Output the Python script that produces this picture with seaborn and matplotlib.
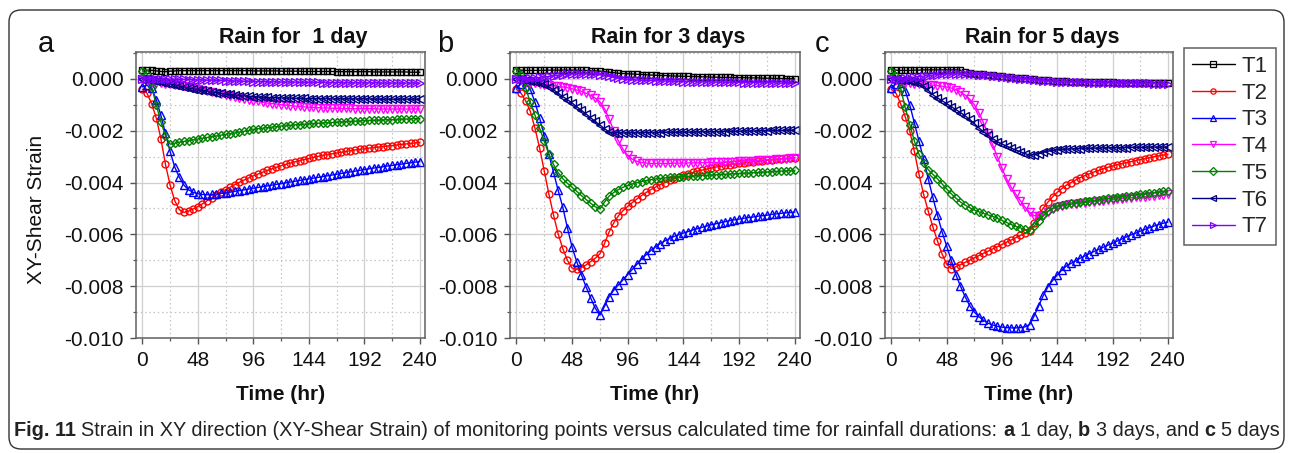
import numpy as np
import pandas as pd
import matplotlib
matplotlib.use("Agg")
import matplotlib.pyplot as plt
import seaborn as sns
from matplotlib.ticker import MultipleLocator, FuncFormatter
from matplotlib.patches import FancyBboxPatch
from matplotlib.transforms import IdentityTransform
from matplotlib.lines import Line2D
from matplotlib import font_manager

# ---------------- data (strain values in units of 1e-3) ----------------
time_hr = list(range(0, 241, 4))
series_names = ["T1", "T2", "T3", "T4", "T5", "T6", "T7"]
panel_titles = ["Rain for  1 day", "Rain for 3 days", "Rain for 5 days"]
panel_letters = ["a", "b", "c"]
x_ticks = [0, 48, 96, 144, 192, 240]
y_ticks = [0.000, -0.002, -0.004, -0.006, -0.008, -0.010]

A_T1 = [0.35,0.34,0.33,0.31,0.29,0.28,0.30,0.31,0.32,0.32,
        0.32,0.32,0.32,0.32,0.32,0.32,0.32,0.32,0.32,0.32,
        0.32,0.32,0.32,0.32,0.31,0.31,0.31,0.31,0.31,0.31,
        0.30,0.30,0.30,0.30,0.30,0.29,0.29,0.29,0.29,0.29,
        0.29,0.29,0.28,0.28,0.28,0.28,0.28,0.28,0.28,0.28,
        0.27,0.27,0.27,0.27,0.27,0.27,0.27,0.27,0.26,0.26,
        0.26]
A_T2 = [-0.40,-0.55,-0.95,-1.50,-2.30,-3.30,-4.10,-4.70,-5.05,-5.15,
        -5.10,-5.02,-4.93,-4.82,-4.70,-4.60,-4.48,-4.38,-4.28,-4.18,
        -4.08,-3.99,-3.90,-3.82,-3.74,-3.67,-3.60,-3.53,-3.47,-3.41,
        -3.35,-3.30,-3.25,-3.20,-3.15,-3.11,-3.07,-3.03,-2.99,-2.95,
        -2.92,-2.89,-2.86,-2.83,-2.80,-2.77,-2.74,-2.72,-2.70,-2.67,
        -2.65,-2.63,-2.61,-2.59,-2.57,-2.55,-2.53,-2.51,-2.49,-2.47,
        -2.45]
A_T3 = [-0.30,-0.25,-0.35,-0.80,-1.40,-2.10,-2.80,-3.40,-3.80,-4.10,
        -4.28,-4.38,-4.43,-4.46,-4.47,-4.46,-4.44,-4.42,-4.40,-4.37,
        -4.34,-4.31,-4.28,-4.25,-4.22,-4.19,-4.16,-4.13,-4.10,-4.07,
        -4.04,-4.01,-3.98,-3.95,-3.92,-3.89,-3.86,-3.83,-3.80,-3.77,
        -3.74,-3.71,-3.68,-3.65,-3.62,-3.59,-3.56,-3.53,-3.50,-3.47,
        -3.44,-3.42,-3.39,-3.36,-3.34,-3.31,-3.29,-3.26,-3.24,-3.21,
        -3.19]
A_T4 = [-0.02,-0.05,-0.10,-0.14,-0.17,-0.19,-0.21,-0.23,-0.25,-0.28,
        -0.31,-0.34,-0.37,-0.41,-0.45,-0.49,-0.53,-0.57,-0.61,-0.65,
        -0.69,-0.73,-0.77,-0.80,-0.84,-0.87,-0.90,-0.93,-0.95,-0.97,
        -0.99,-1.01,-1.03,-1.05,-1.06,-1.08,-1.09,-1.10,-1.11,-1.12,
        -1.12,-1.13,-1.13,-1.14,-1.14,-1.14,-1.15,-1.15,-1.15,-1.15,
        -1.15,-1.16,-1.16,-1.16,-1.16,-1.16,-1.16,-1.16,-1.16,-1.16,
        -1.16]
A_T5 = [0.30,0.20,-0.30,-1.00,-1.65,-2.20,-2.52,-2.48,-2.44,-2.41,
        -2.38,-2.35,-2.32,-2.29,-2.26,-2.23,-2.20,-2.17,-2.14,-2.11,
        -2.08,-2.05,-2.02,-1.99,-1.95,-1.92,-1.90,-1.88,-1.86,-1.84,
        -1.82,-1.80,-1.79,-1.77,-1.76,-1.75,-1.73,-1.72,-1.71,-1.70,
        -1.69,-1.68,-1.67,-1.66,-1.65,-1.64,-1.63,-1.62,-1.61,-1.60,
        -1.60,-1.59,-1.58,-1.57,-1.57,-1.56,-1.55,-1.55,-1.54,-1.53,
        -1.53]
A_T6 = [0.00,-0.02,-0.05,-0.08,-0.11,-0.15,-0.19,-0.23,-0.27,-0.31,
        -0.35,-0.38,-0.41,-0.44,-0.47,-0.50,-0.53,-0.55,-0.58,-0.60,
        -0.62,-0.64,-0.65,-0.67,-0.68,-0.69,-0.70,-0.71,-0.72,-0.73,
        -0.73,-0.74,-0.74,-0.75,-0.75,-0.75,-0.76,-0.76,-0.76,-0.76,
        -0.76,-0.77,-0.77,-0.77,-0.77,-0.77,-0.77,-0.77,-0.77,-0.77,
        -0.78,-0.78,-0.78,-0.78,-0.78,-0.78,-0.78,-0.78,-0.78,-0.78,
        -0.78]
A_T7 = [0.00,0.00,0.00,0.00,-0.01,-0.01,-0.01,-0.02,-0.02,-0.02,
        -0.03,-0.03,-0.04,-0.04,-0.05,-0.05,-0.06,-0.06,-0.07,-0.07,
        -0.08,-0.08,-0.09,-0.09,-0.10,-0.10,-0.10,-0.11,-0.11,-0.11,
        -0.12,-0.12,-0.12,-0.12,-0.13,-0.13,-0.13,-0.13,-0.13,-0.14,
        -0.14,-0.14,-0.14,-0.14,-0.14,-0.15,-0.15,-0.15,-0.15,-0.15,
        -0.15,-0.15,-0.16,-0.16,-0.16,-0.16,-0.16,-0.16,-0.16,-0.16,
        -0.16]

B_T1 = [0.35,0.34,0.33,0.33,0.33,0.33,0.33,0.34,0.34,0.34,
        0.34,0.34,0.34,0.34,0.33,0.33,0.32,0.31,0.30,0.28,
        0.26,0.24,0.22,0.21,0.20,0.19,0.18,0.17,0.16,0.15,
        0.14,0.13,0.13,0.12,0.11,0.11,0.10,0.10,0.09,0.09,
        0.08,0.08,0.07,0.07,0.06,0.06,0.06,0.05,0.05,0.05,
        0.04,0.04,0.04,0.03,0.03,0.03,0.02,0.02,0.01,0.01,
        0.00]
B_T2 = [-0.40,-0.55,-0.85,-1.25,-1.90,-2.66,-3.55,-4.44,-5.25,-5.98,
        -6.55,-7.00,-7.30,-7.35,-7.28,-7.18,-7.05,-6.92,-6.75,-6.35,
        -5.90,-5.55,-5.28,-5.08,-4.92,-4.77,-4.63,-4.50,-4.38,-4.27,
        -4.17,-4.08,-4.00,-3.92,-3.85,-3.78,-3.72,-3.66,-3.61,-3.56,
        -3.52,-3.48,-3.44,-3.40,-3.37,-3.34,-3.31,-3.28,-3.26,-3.24,
        -3.22,-3.20,-3.18,-3.16,-3.14,-3.12,-3.10,-3.09,-3.07,-3.05,
        -3.04]
B_T3 = [-0.35,-0.20,-0.10,-0.40,-0.90,-1.50,-2.20,-2.91,-3.60,-4.30,
        -4.95,-5.75,-6.49,-7.05,-7.55,-8.02,-8.45,-8.85,-9.12,-8.78,
        -8.40,-8.15,-7.95,-7.75,-7.55,-7.35,-7.15,-6.95,-6.78,-6.62,
        -6.48,-6.36,-6.25,-6.16,-6.08,-6.01,-5.95,-5.89,-5.83,-5.78,
        -5.73,-5.68,-5.63,-5.59,-5.55,-5.51,-5.47,-5.44,-5.41,-5.38,
        -5.35,-5.33,-5.30,-5.28,-5.26,-5.23,-5.21,-5.19,-5.17,-5.16,
        -5.14]
B_T4 = [-0.02,-0.05,-0.10,-0.14,-0.17,-0.20,-0.22,-0.24,-0.26,-0.28,
        -0.31,-0.34,-0.38,-0.43,-0.48,-0.55,-0.63,-0.74,-0.88,-1.15,
        -1.55,-2.00,-2.40,-2.72,-2.95,-3.10,-3.18,-3.23,-3.25,-3.26,
        -3.26,-3.26,-3.26,-3.26,-3.25,-3.25,-3.25,-3.24,-3.24,-3.24,
        -3.23,-3.23,-3.22,-3.22,-3.21,-3.21,-3.20,-3.19,-3.18,-3.17,
        -3.16,-3.15,-3.14,-3.13,-3.12,-3.11,-3.10,-3.09,-3.08,-3.07,
        -3.06]
B_T5 = [0.30,0.15,-0.35,-0.90,-1.40,-1.90,-2.40,-2.90,-3.30,-3.62,
        -3.85,-4.03,-4.18,-4.34,-4.50,-4.65,-4.80,-4.93,-5.02,-4.75,
        -4.52,-4.38,-4.27,-4.18,-4.11,-4.05,-4.00,-3.96,-3.92,-3.89,
        -3.86,-3.84,-3.82,-3.80,-3.79,-3.78,-3.77,-3.76,-3.75,-3.74,
        -3.73,-3.72,-3.71,-3.70,-3.69,-3.68,-3.67,-3.66,-3.65,-3.64,
        -3.63,-3.62,-3.61,-3.60,-3.59,-3.58,-3.57,-3.56,-3.55,-3.54,
        -3.53]
B_T6 = [0.00,-0.02,-0.05,-0.08,-0.11,-0.15,-0.20,-0.30,-0.42,-0.55,
        -0.68,-0.80,-0.93,-1.07,-1.21,-1.35,-1.50,-1.64,-1.78,-1.92,
        -2.05,-2.08,-2.08,-2.08,-2.08,-2.08,-2.08,-2.07,-2.07,-2.07,
        -2.07,-2.07,-2.06,-2.06,-2.06,-2.06,-2.05,-2.05,-2.05,-2.05,
        -2.04,-2.04,-2.04,-2.03,-2.03,-2.03,-2.02,-2.02,-2.02,-2.01,
        -2.01,-2.01,-2.00,-2.00,-2.00,-1.99,-1.99,-1.99,-1.98,-1.98,
        -1.98]
B_T7 = [0.00,0.00,0.00,0.02,0.04,0.06,0.08,0.10,0.12,0.14,
        0.16,0.18,0.19,0.20,0.20,0.20,0.20,0.19,0.17,0.14,
        0.10,0.06,0.03,0.00,-0.02,-0.03,-0.04,-0.05,-0.06,-0.06,
        -0.07,-0.07,-0.08,-0.08,-0.09,-0.09,-0.10,-0.10,-0.10,-0.11,
        -0.11,-0.11,-0.12,-0.12,-0.12,-0.13,-0.13,-0.13,-0.13,-0.14,
        -0.14,-0.14,-0.14,-0.15,-0.15,-0.15,-0.15,-0.16,-0.16,-0.16,
        -0.17]

C_T1 = [0.35,0.34,0.33,0.33,0.33,0.34,0.34,0.35,0.35,0.35,
        0.35,0.35,0.35,0.35,0.35,0.34,0.26,0.22,0.19,0.18,
        0.18,0.16,0.14,0.12,0.10,0.08,0.06,0.04,0.03,0.02,
        0.00,-0.02,-0.04,-0.05,-0.06,-0.07,-0.08,-0.09,-0.09,-0.10,
        -0.10,-0.11,-0.11,-0.12,-0.12,-0.12,-0.13,-0.13,-0.13,-0.14,
        -0.14,-0.14,-0.14,-0.15,-0.15,-0.15,-0.15,-0.16,-0.16,-0.16,
        -0.16]
C_T2 = [-0.40,-0.55,-0.95,-1.45,-2.02,-2.80,-3.68,-4.45,-5.10,-5.70,
        -6.25,-6.75,-7.15,-7.32,-7.25,-7.17,-7.08,-7.00,-6.91,-6.82,
        -6.73,-6.65,-6.56,-6.48,-6.39,-6.30,-6.22,-6.13,-6.04,-5.96,
        -5.88,-5.55,-5.25,-4.98,-4.75,-4.55,-4.38,-4.23,-4.10,-4.00,
        -3.90,-3.81,-3.73,-3.66,-3.59,-3.53,-3.47,-3.41,-3.36,-3.31,
        -3.27,-3.23,-3.19,-3.15,-3.11,-3.08,-3.04,-3.00,-2.97,-2.94,
        -2.91]
C_T3 = [-0.35,-0.20,-0.15,-0.45,-1.00,-1.70,-2.40,-3.10,-3.85,-4.57,
        -5.25,-5.90,-6.45,-7.00,-7.55,-8.00,-8.40,-8.75,-9.00,-9.18,
        -9.32,-9.43,-9.50,-9.55,-9.58,-9.60,-9.61,-9.61,-9.60,-9.57,
        -9.48,-9.15,-8.75,-8.35,-8.02,-7.78,-7.57,-7.38,-7.22,-7.12,
        -7.02,-6.92,-6.83,-6.74,-6.66,-6.58,-6.50,-6.42,-6.34,-6.26,
        -6.18,-6.10,-6.02,-5.95,-5.88,-5.81,-5.74,-5.68,-5.62,-5.57,
        -5.53]
C_T4 = [-0.02,-0.06,-0.10,-0.14,-0.17,-0.19,-0.21,-0.22,-0.23,-0.24,
        -0.26,-0.28,-0.31,-0.35,-0.42,-0.51,-0.62,-0.78,-1.00,-1.30,
        -1.70,-2.10,-2.55,-3.00,-3.45,-3.85,-4.18,-4.45,-4.70,-4.95,
        -5.15,-5.28,-5.30,-5.28,-5.12,-5.02,-4.95,-4.91,-4.87,-4.84,
        -4.82,-4.80,-4.78,-4.76,-4.74,-4.72,-4.70,-4.68,-4.66,-4.64,
        -4.62,-4.60,-4.59,-4.57,-4.56,-4.54,-4.52,-4.50,-4.49,-4.47,
        -4.46]
C_T5 = [0.30,0.10,-0.35,-1.10,-1.76,-2.40,-2.91,-3.25,-3.50,-3.68,
        -3.85,-4.05,-4.25,-4.43,-4.60,-4.75,-4.87,-4.97,-5.06,-5.13,
        -5.19,-5.25,-5.31,-5.38,-5.46,-5.54,-5.62,-5.69,-5.75,-5.81,
        -5.85,-5.68,-5.47,-5.27,-5.10,-4.99,-4.92,-4.87,-4.83,-4.79,
        -4.77,-4.75,-4.73,-4.71,-4.69,-4.66,-4.64,-4.61,-4.58,-4.56,
        -4.54,-4.52,-4.50,-4.48,-4.46,-4.44,-4.42,-4.40,-4.37,-4.34,
        -4.32]
C_T6 = [0.00,-0.02,-0.04,-0.06,-0.08,-0.11,-0.15,-0.27,-0.44,-0.61,
        -0.73,-0.84,-0.95,-1.07,-1.18,-1.30,-1.42,-1.56,-1.72,-1.89,
        -2.04,-2.17,-2.30,-2.42,-2.51,-2.59,-2.67,-2.74,-2.81,-2.88,
        -2.94,-2.93,-2.88,-2.83,-2.79,-2.76,-2.74,-2.72,-2.71,-2.70,
        -2.69,-2.69,-2.68,-2.68,-2.67,-2.67,-2.66,-2.66,-2.66,-2.65,
        -2.65,-2.65,-2.64,-2.64,-2.64,-2.64,-2.63,-2.63,-2.63,-2.63,
        -2.63]
C_T7 = [0.00,0.00,0.01,0.03,0.05,0.07,0.09,0.11,0.13,0.15,
        0.17,0.18,0.19,0.20,0.20,0.20,0.20,0.19,0.18,0.17,
        0.16,0.14,0.12,0.10,0.08,0.06,0.04,0.02,0.01,0.00,
        -0.02,-0.04,-0.06,-0.07,-0.08,-0.09,-0.10,-0.11,-0.11,-0.12,
        -0.12,-0.13,-0.13,-0.14,-0.14,-0.14,-0.15,-0.15,-0.15,-0.16,
        -0.16,-0.16,-0.16,-0.17,-0.17,-0.17,-0.17,-0.18,-0.18,-0.18,
        -0.18]

panel_data = [
    [A_T1, A_T2, A_T3, A_T4, A_T5, A_T6, A_T7],
    [B_T1, B_T2, B_T3, B_T4, B_T5, B_T6, B_T7],
    [C_T1, C_T2, C_T3, C_T4, C_T5, C_T6, C_T7],
]

# ---------------- style ----------------
colors = ["#000000", "#FF0000", "#0000FF", "#FF00FF", "#008000", "#000080", "#8000FF"]
markers = ["s", "o", "^", "v", "D", "<", ">"]
marker_sizes = [4.0, 5.0, 5.6, 5.6, 4.4, 5.6, 5.6]

sns.set_theme(style="white")
plt.rcParams["font.family"] = ["Liberation Sans", "DejaVu Sans"]
plt.rcParams["axes.unicode_minus"] = False

W, H = 1292, 453
fig = plt.figure(figsize=(W / 100, H / 100), dpi=100)
fig.patch.set_facecolor("white")


def fx(px):
    return px / W


def fy(py):
    return 1 - py / H


AX_TOP, AX_BOT = 52, 338
panel_lr = [(136, 425), (510, 800), (885, 1173)]
letter_x = [38, 437, 815]


def yfmt(v, pos):
    if abs(v) < 1e-12:
        return "0.000"
    return f"{v:.3f}"


axes = []
for i, (l, r) in enumerate(panel_lr):
    ax = fig.add_axes([fx(l), fy(AX_BOT), (r - l) / W, (AX_BOT - AX_TOP) / H])
    axes.append(ax)
    for name, vals, c, m, ms in zip(series_names, panel_data[i], colors, markers, marker_sizes):
        df = pd.DataFrame({"Time (hr)": time_hr, "strain": np.array(vals) * 1e-3})
        sns.lineplot(data=df, x="Time (hr)", y="strain", ax=ax, color=c,
                     marker=m, markersize=ms, markerfacecolor="none",
                     markeredgecolor=c, markeredgewidth=1.0, linewidth=1.0,
                     errorbar=None, legend=False)
    ax.set_xlim(-5.5, 244.5)
    ax.set_ylim(-0.0100, 0.00104)
    ax.set_xticks(x_ticks)
    ax.set_yticks(y_ticks)
    ax.xaxis.set_minor_locator(MultipleLocator(24))
    ax.yaxis.set_minor_locator(MultipleLocator(0.001))
    ax.yaxis.set_major_formatter(FuncFormatter(yfmt))
    ax.set_axisbelow(True)
    ax.grid(which="major", color="#cfcfcf", lw=0.9, ls="-")
    ax.grid(which="minor", color="#c4c4c4", lw=0.9, ls=(0, (1.2, 2.2)))
    for s in ax.spines.values():
        s.set_color("#606060")
        s.set_linewidth(1.1)
    ax.tick_params(which="major", direction="out", length=4, width=1.0, color="#555555",
                   labelsize=15, pad=5, bottom=True, left=True, top=False, right=False,
                   labelcolor="#111111")
    ax.tick_params(which="minor", direction="out", length=2.5, width=0.9, color="#555555",
                   bottom=True, left=True, top=False, right=False)
    ax.set_xlabel("Time (hr)", fontsize=15, fontweight="bold", labelpad=11, color="#111111")
    ax.set_ylabel("")
    ax.text(0.545, 1 + 4 / (AX_BOT - AX_TOP), panel_titles[i], transform=ax.transAxes,
            ha="center", va="bottom", fontsize=15.5, fontweight="bold", color="#111111")
    fig.text(fx(letter_x[i]), fy(52), panel_letters[i], fontsize=21, ha="left",
             va="baseline", color="#111111")

fig.text(fx(37), fy(209), "XY-Shear Strain", rotation=90, ha="center", va="center",
         fontsize=15, color="#111111")

# legend (small markers on a thin line, like the reference)
legend_handles = [Line2D([], [], color=c, lw=1.0, marker=m, markersize=3.8,
                         markerfacecolor="none", markeredgecolor=c, markeredgewidth=0.9)
                  for c, m in zip(colors, markers)]
leg = fig.legend(handles=legend_handles, labels=series_names, loc="upper left",
                 bbox_to_anchor=(fx(1184), fy(48)), frameon=True, fancybox=False,
                 edgecolor="#606060", framealpha=1, fontsize=16, handlelength=1.95,
                 handletextpad=0.3, labelspacing=0.26, borderpad=0.35, borderaxespad=0)
leg.get_frame().set_linewidth(1.1)

# outer rounded frame (pixel coordinates)
frame = FancyBboxPatch((9, H - 449), 1275, 439,
                       boxstyle="round,pad=0,rounding_size=12",
                       transform=IdentityTransform(), fill=False, ec="#333333", lw=1.0)
fig.patches.append(frame)

# caption with mixed bold/normal pieces
cap_family = ["Liberation Sans"]
if any(f.name == "Liberation Sans Narrow" for f in font_manager.fontManager.ttflist):
    cap_family = ["Liberation Sans Narrow"]
caption_parts = [
    ("Fig. 11", "bold"),
    ("Strain in XY direction (XY-Shear Strain) of monitoring points versus calculated time for rainfall durations:", "normal"),
    ("a", "bold"), ("1 day,", "normal"),
    ("b", "bold"), ("3 days, and", "normal"),
    ("c", "bold"), ("5 days", "normal"),
]
renderer = fig.canvas.get_renderer()


def text_w(s, size, weight):
    t = fig.text(0, 0, s, fontsize=size, fontweight=weight, family=cap_family)
    w = t.get_window_extent(renderer).width
    t.remove()
    return w


base = 12.0
space_w = text_w("x x", base, "normal") - text_w("xx", base, "normal")
total = sum(text_w(s, base, w) for s, w in caption_parts) + space_w * (len(caption_parts) - 1)
target_w = 1264.0
size = base * target_w / total
space_w *= size / base
x = 14.0
for s, w in caption_parts:
    fig.text(fx(x), fy(436), s, fontsize=size, fontweight=w, family=cap_family,
             ha="left", va="baseline", color="#222222")
    x += text_w(s, size, w) + space_w

fig.savefig("out.png", dpi=100, facecolor="white")
